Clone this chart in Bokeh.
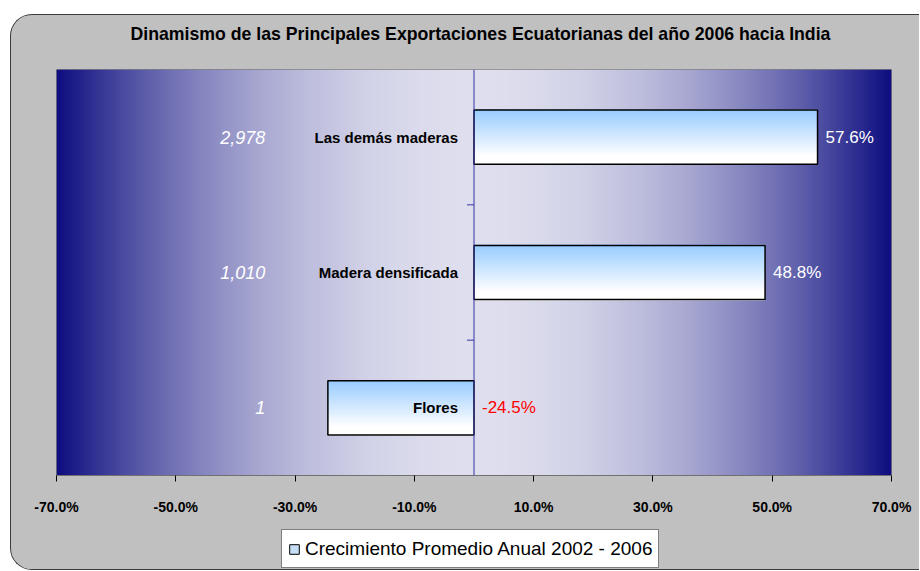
import numpy as np
from bokeh.plotting import figure
from bokeh.layouts import column
from bokeh.models import (Range1d, FixedTicker, PrintfTickFormatter, Legend, LegendItem, Span,
                          Title)
from bokeh.core.properties import value
from bokeh.embed import file_html
from bokeh.resources import INLINE

# ---------------- data ----------------
title_text = "Dinamismo de las Principales Exportaciones Ecuatorianas del año 2006 hacia India"
categories = ["Flores", "Madera densificada", "Las demás maderas"]
growth = [-24.5, 48.8, 57.6]
export_values = ["1", "1,010", "2,978"]
x_ticks = [-70, -50, -30, -10, 10, 30, 50, 70]
legend_label = "Crecimiento Promedio Anual 2002 - 2006"
XMIN, XMAX = -70, 70

# ---------------- style ----------------
FONT = "Liberation Sans"
FRAME_W, FRAME_H = 835, 406
BAR_H = 0.4
GREY = "#C0C0C0"

p = figure(frame_width=FRAME_W, frame_height=FRAME_H, output_backend="svg", toolbar_location=None,
           x_range=Range1d(XMIN, XMAX), y_range=Range1d(0, len(categories)),
           y_axis_location=None,
           min_border_left=45, min_border_right=28, min_border_top=54, min_border_bottom=45,
           border_fill_color=GREY, outline_line_color="#808080")
p.grid.visible = False

# background gradient (navy edges -> light lavender centre)
n = 421
xs = np.linspace(XMIN, XMAX, n)
t = np.abs(xs) / XMAX
light = np.array([222, 222, 238], dtype=float)
dark = np.array([13, 13, 128], dtype=float)
cols = light[None, :] - (light - dark)[None, :] * (t ** 2)[:, None]
img = np.zeros((2, n), dtype=np.uint32)
view = img.view(dtype=np.uint8).reshape((2, n, 4))
for k in range(3):
    view[:, :, k] = cols[:, k].round().astype(np.uint8)[None, :]
view[:, :, 3] = 255
p.image_rgba(image=[img], x=XMIN, y=0, dw=XMAX - XMIN, dh=len(categories))

# bars with vertical gradient fill
ys = np.arange(len(categories)) + 0.5
top_c = np.array([150, 202, 255], dtype=float)
bot_c = np.array([255, 255, 255], dtype=float)
nslices = 20
for i in range(nslices):
    f = (i + 0.5) / nslices
    c = top_c + (bot_c - top_c) * min(1.0, f * 1.15)
    col = "#%02x%02x%02x" % tuple(int(round(v)) for v in c)
    yc = ys + BAR_H / 2 - (i + 0.5) * BAR_H / nslices
    p.hbar(y=yc, left=0, right=growth, height=BAR_H / nslices * 1.6,
           fill_color=col, line_color=None)
p.hbar(y=ys, left=0, right=growth, height=BAR_H, fill_color=None,
       line_color="black", line_width=1.5)

# vertical axis at zero with small ticks between categories
p.add_layout(Span(location=0, dimension="height", line_color="#3535a5", line_width=1))
tick_len = 7 * (XMAX - XMIN) / FRAME_W
bounds = list(range(1, len(categories)))
p.segment(x0=[-tick_len] * len(bounds), y0=bounds, x1=[0] * len(bounds), y1=bounds,
          line_color="#3535a5", line_width=1)

# category labels
p.text(x=[0] * len(categories), y=ys, text=categories, x_offset=-16,
       text_align="right", text_baseline="middle", text_font=value(FONT),
       text_font_size="15px", text_font_style="bold", text_color="black")

# value labels
lab_x = [max(v, 0) for v in growth]
lab_txt = ["%.1f%%" % v for v in growth]
lab_col = ["white" if v >= 0 else "#ff0000" for v in growth]
p.text(x=lab_x, y=ys, text=lab_txt, x_offset=8, text_align="left",
       text_baseline="middle", text_font=value(FONT), text_font_size="17px",
       text_color=lab_col)

# export values (italic white)
p.text(x=[-35] * len(categories), y=ys, text=export_values, text_align="right",
       text_baseline="middle", text_font=value(FONT), text_font_size="18px",
       text_font_style="italic", text_color="white")

# x axis
ax = p.xaxis[0]
ax.ticker = FixedTicker(ticks=x_ticks)
ax.formatter = PrintfTickFormatter(format="%.1f%%")
ax.major_label_text_font = FONT
ax.major_label_text_font_size = "14px"
ax.major_label_text_font_style = "bold"
ax.major_label_text_color = "black"
ax.axis_line_color = "#707070"
ax.major_tick_line_color = "black"
ax.major_tick_out = 6
ax.major_tick_in = 0
ax.minor_tick_line_color = None
ax.major_label_standoff = 17

# title (spacer between title and frame)
p.add_layout(Title(text=" ", text_font_size="10px", standoff=13), "above")
p.title.text = title_text
p.title.align = "left"
p.title.offset = 74
p.title.text_font = FONT
p.title.text_font_size = "17.7px"
p.title.text_font_style = "bold"
p.title.text_color = "black"
p.title.standoff = 0

# legend strip (second figure, no axes); the legend proxy bar lies outside its view
p2 = figure(width=908, height=49, output_backend="svg", toolbar_location=None,
            x_range=Range1d(0, 1), y_range=Range1d(0, 1),
            x_axis_location=None, y_axis_location=None,
            min_border=0, border_fill_color=GREY, background_fill_color=GREY,
            outline_line_color=None)
p2.grid.visible = False
leg_r = p2.hbar(y=[-5], left=[0], right=[1], height=0.5, fill_color="#c6def6",
                line_color="black", line_width=1)
legend = Legend(items=[LegendItem(label=legend_label, renderers=[leg_r])],
                location=(225, 1), orientation="horizontal",
                border_line_color="black", border_line_width=1,
                background_fill_color="white", background_fill_alpha=1,
                label_text_font=FONT, label_text_font_size="19px", label_text_color="black",
                glyph_width=12, glyph_height=12, label_standoff=5, label_height=25,
                padding=6, margin=0, spacing=0)
p2.add_layout(legend, "center")

layout = column(p, p2, spacing=0)
layout.styles = {"margin-left": "10px", "margin-top": "14px",
                 "border-left": "1.5px solid #3c3c3c", "border-top": "1.5px solid #3c3c3c",
                 "border-bottom": "1.5px solid #3c3c3c",
                 "border-top-left-radius": "22px", "border-bottom-left-radius": "22px",
                 "overflow": "hidden", "background-color": GREY}

open("out.html", "w").write(file_html(layout, INLINE))
